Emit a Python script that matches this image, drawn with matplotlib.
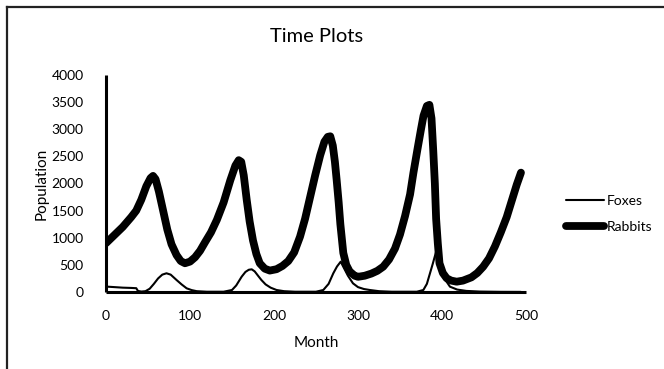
import matplotlib
matplotlib.use("Agg")
import matplotlib.pyplot as plt
from matplotlib.lines import Line2D

plt.rcParams['font.family'] = ['Lato', 'DejaVu Sans']

# rabbits
rabbit_month = [0, 10, 20, 30, 36, 42, 48, 53, 56, 59, 63, 68, 73, 78, 84, 89, 94,
                100, 106, 112, 118, 125, 132, 140, 148, 154, 158, 161, 164, 167.5,
                171, 175, 179, 183, 189, 195, 203, 210, 217, 224, 231, 237, 243,
                249, 255, 260, 264, 267, 270, 272.5, 274.6, 277, 279, 282.5, 286,
                290, 296, 300, 308, 316, 323, 330, 337, 344, 350, 356, 362, 366,
                371, 375, 378, 382, 385, 387.5, 389.6, 391.5, 393, 395, 397, 401,
                405.6, 411, 417.5, 425, 435, 442, 449, 456, 463, 470, 477, 483,
                489, 494]
rabbits = [900, 1050, 1200, 1380, 1500, 1700, 1950, 2100, 2140, 2080, 1850, 1500,
           1150, 880, 680, 570, 530, 560, 640, 760, 920, 1100, 1330, 1650, 2060,
           2330, 2430, 2400, 2150, 1700, 1300, 950, 700, 530, 430, 395, 420, 480,
           570, 730, 1020, 1350, 1750, 2150, 2520, 2770, 2860, 2870, 2700, 2400,
           2064, 1650, 1250, 720, 500, 380, 300, 280, 300, 340, 390, 466, 600,
           800, 1060, 1400, 1800, 2200, 2650, 3000, 3250, 3430, 3450, 3200, 2600,
           2000, 1350, 900, 530, 350, 252, 210, 190, 210, 270, 350, 466, 620, 840,
           1100, 1380, 1680, 1980, 2200]

# foxes
fox_month = [0, 10, 20, 30, 36, 38, 42, 47, 52, 57, 62, 67, 72, 77, 84, 90, 96,
             102, 108, 120, 140, 150, 155, 161.5, 166, 170, 173.5, 177, 181, 185,
             190, 196, 203, 212, 225, 250, 258.7, 265, 270.6, 275, 279.4, 283,
             288, 294, 300, 307, 314, 325, 340, 370, 377.8, 382, 385.7, 389, 393,
             396, 400, 405, 409.5, 418, 429, 445, 470, 494]
foxes = [100, 90, 80, 75, 70, 20, 8, 15, 60, 150, 250, 320, 345, 320, 221, 140, 68,
         35, 15, 5, 5, 37, 120, 282, 370, 410, 418, 380, 300, 221, 140, 80, 37, 15,
         5, 5, 37, 150, 345, 470, 559, 450, 300, 160, 90, 55, 37, 15, 5, 5, 37,
         150, 345, 520, 743, 650, 400, 200, 98, 45, 20, 8, 3, 2]

x_ticks = [0, 100, 200, 300, 400, 500]
y_ticks = [0, 500, 1000, 1500, 2000, 2500, 3000, 3500, 4000]

W, H = 664, 369
fig = plt.figure(figsize=(W / 100, H / 100), dpi=100)
ax = fig.add_axes([106 / W, (H - 292) / H, 420 / W, 217 / H])

ax.plot(fox_month, foxes, color='black', lw=1.5, solid_joinstyle='round',
        solid_capstyle='round', label='Foxes')
ax.plot(rabbit_month, rabbits, color='black', lw=5.6, solid_joinstyle='round',
        solid_capstyle='round', label='Rabbits')

ax.set_xlim(0, 500)
ax.set_ylim(0, 4000)
ax.set_xticks(x_ticks)
ax.set_yticks(y_ticks)
ax.tick_params(length=0, labelsize=10)
ax.tick_params(axis='x', pad=13)
ax.tick_params(axis='y', pad=16)
for s in ['top', 'right']:
    ax.spines[s].set_visible(False)
for s in ['left', 'bottom']:
    ax.spines[s].set_linewidth(2.2)
    ax.spines[s].set_capstyle('butt')

ax.set_xlabel('Month', fontsize=11, labelpad=10)
ax.set_ylabel('Population', fontsize=11, labelpad=2)
fig.text(317 / W, 1 - 37 / H, 'Time Plots', ha='center', va='center', fontsize=14.5)

ax.legend(loc='center left', bbox_to_anchor=(566 / W, 1 - 214 / H),
          bbox_transform=fig.transFigure, frameon=False, fontsize=10,
          handlelength=2.7, handletextpad=0.2, labelspacing=1.0, borderpad=0,
          borderaxespad=0)

# chart border (top and left edges visible in the crop)
fig.add_artist(Line2D([7 / W, 1], [1 - 7 / H, 1 - 7 / H], color='#222222', lw=1.6,
                      transform=fig.transFigure))
fig.add_artist(Line2D([7 / W, 7 / W], [0, 1 - 7 / H], color='#222222', lw=1.6,
                      transform=fig.transFigure))

fig.savefig('out.png', dpi=100)
